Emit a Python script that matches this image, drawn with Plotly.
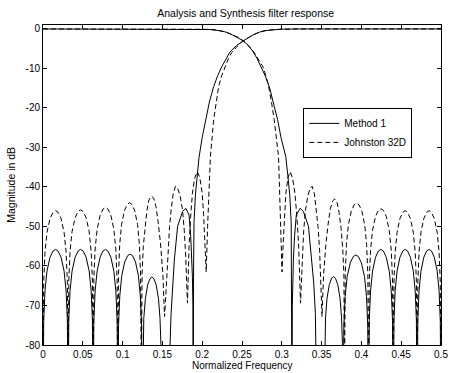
import plotly.graph_objects as go

# ---------------- data ----------------
# Method 1, high-pass (analysis/synthesis) branch
m1_hp_f = [0, 0.0009, 0.0025, 0.005, 0.0088, 0.0126, 0.0158, 0.0189, 0.0227, 0.0265, 0.029, 0.0306, 0.0315,
           0.0324, 0.034, 0.0365, 0.0403, 0.0441, 0.0472, 0.0504, 0.0542, 0.058, 0.0605, 0.0621, 0.063,
           0.0639, 0.0655, 0.068, 0.0717, 0.0754, 0.0785, 0.0816, 0.0853, 0.089, 0.0915, 0.0931, 0.094,
           0.0949, 0.0965, 0.0989, 0.1026, 0.1063, 0.1094, 0.1125, 0.1162, 0.1199, 0.1222, 0.1238, 0.1247,
           0.1254, 0.1266, 0.1286, 0.1315, 0.1344, 0.1368, 0.1393, 0.1422, 0.1451, 0.147, 0.1483, 0.149,
           0.159, 0.1596, 0.1609, 0.163, 0.165, 0.1691, 0.1753, 0.1794, 0.1835, 0.1856, 0.187, 0.1877, 0.1883, 0.1887,
           0.1892, 0.1897, 0.1915, 0.1938, 0.196, 0.2, 0.2041, 0.209, 0.2144, 0.2195, 0.2247, 0.23, 0.235, 0.243,
           0.2515, 0.258, 0.264, 0.272, 0.28, 0.29, 0.3, 0.32, 0.5]
m1_hp_db = [-100, -73.8, -66.3, -61.3, -57.8, -56.2, -55.8, -56.2, -57.8, -61.3, -66.3, -73.8, -100,
            -73.8, -66.3, -61.3, -57.8, -56.2, -55.8, -56.2, -57.8, -61.3, -66.3, -73.8, -100,
            -73.8, -66.3, -61.3, -57.8, -56.2, -55.8, -56.2, -57.8, -61.3, -66.3, -73.8, -100,
            -75.0, -67.5, -62.5, -59.0, -57.4, -57.0, -57.4, -59.0, -62.5, -67.5, -75.0, -100,
            -80.8, -73.3, -68.3, -64.8, -63.2, -62.8, -63.2, -64.8, -68.3, -73.3, -80.8, -100,
            -100, -80, -72, -64, -58.5, -50, -46.2, -45.4, -47.1, -52.6, -58, -62.7, -70, -100,
            -60, -49, -42, -37, -32.5, -27.5, -23, -18.5, -14.6, -11.8, -9.5, -7.5, -5.8, -4.2,
            -3.0, -2.2, -1.5, -0.8, -0.4, -0.15, -0.05, 0, 0]

# Method 1, low-pass branch
m1_lp_f = [0, 0.18, 0.2, 0.21, 0.22, 0.23, 0.238, 0.245, 0.2515, 0.2576, 0.2638, 0.269, 0.274, 0.279,
           0.2843, 0.2895, 0.2947, 0.299, 0.305, 0.3075, 0.31, 0.3118, 0.3123, 0.3128,
           0.3132, 0.3138, 0.3146, 0.316, 0.3182, 0.323, 0.3272, 0.3335, 0.3378, 0.34, 0.3422, 0.3435, 0.3442,
           0.353, 0.3537, 0.3549, 0.3568, 0.3597, 0.3626, 0.365, 0.3674, 0.3703, 0.3732, 0.3751, 0.3763, 0.377,
           0.378, 0.3796, 0.3821, 0.386, 0.3898, 0.393, 0.3962, 0.4, 0.4039, 0.4064, 0.408, 0.409,
           0.4099, 0.4115, 0.414, 0.4177, 0.4214, 0.4245, 0.4276, 0.4313, 0.435, 0.4375, 0.4391, 0.44,
           0.4409, 0.4424, 0.4448, 0.4484, 0.452, 0.455, 0.458, 0.4616, 0.4652, 0.4676, 0.4691, 0.47,
           0.4709, 0.4724, 0.4748, 0.4784, 0.482, 0.485, 0.488, 0.4916, 0.4952, 0.4976, 0.4991, 0.5]
m1_lp_db = [0, 0, -0.05, -0.15, -0.4, -0.8, -1.5, -2.2, -3.0, -4.1, -5.7, -7.5, -9.5, -11.8,
            -14.6, -18.5, -23, -27.5, -32.3, -37, -42, -49, -60, -100,
            -70, -62.7, -58, -52.6, -47.1, -45.4, -46.2, -50, -58.5, -64, -72, -80, -100,
            -100, -80.7, -73.2, -68.2, -64.7, -63.1, -62.7, -63.1, -64.7, -68.2, -73.2, -80.7, -100,
            -75.2, -67.7, -62.7, -59.2, -57.6, -57.2, -57.6, -59.2, -62.7, -67.7, -75.2, -100,
            -73.8, -66.3, -61.3, -57.8, -56.2, -55.8, -56.2, -57.8, -61.3, -66.3, -73.8, -100,
            -73.8, -66.3, -61.3, -57.8, -56.2, -55.8, -56.2, -57.8, -61.3, -66.3, -73.8, -100,
            -73.8, -66.3, -61.3, -57.8, -56.2, -55.8, -56.2, -57.8, -61.3, -66.3, -73.8, -100]

# Johnston 32D, high-pass branch
j_hp_f = [0, 0.0009, 0.0025, 0.005, 0.0088, 0.0126, 0.0158, 0.0189, 0.0227, 0.0265, 0.029, 0.0306, 0.0315,
          0.0324, 0.034, 0.0365, 0.0403, 0.0441, 0.0472, 0.0504, 0.0542, 0.058, 0.0605, 0.0621, 0.063,
          0.0639, 0.0655, 0.068, 0.0717, 0.0754, 0.0785, 0.0816, 0.0853, 0.089, 0.0915, 0.0931, 0.094,
          0.0949, 0.0964, 0.0987, 0.1023, 0.1058, 0.1088, 0.1117, 0.1152, 0.1188, 0.1211, 0.1226, 0.1235,
          0.1245, 0.126, 0.128, 0.1305, 0.133, 0.136, 0.139, 0.142, 0.1444, 0.1475, 0.1506, 0.1527,
          0.1547, 0.157, 0.159, 0.161, 0.1635, 0.1665, 0.1695, 0.1725, 0.1753, 0.1775, 0.1794, 0.1815,
          0.1835, 0.1855, 0.1877, 0.1905, 0.1938, 0.197, 0.2, 0.2018, 0.2033, 0.205,
          0.2068, 0.208, 0.2103, 0.2144, 0.2175, 0.2206, 0.2245, 0.2288, 0.233, 0.237, 0.244,
          0.2515, 0.258, 0.264, 0.272, 0.28, 0.29, 0.3, 0.32, 0.5]
j_hp_db = [-90, -64, -56.5, -51.5, -48, -46.4, -46, -46.4, -48, -51.5, -56.5, -64, -90,
           -63.8, -56.3, -51.3, -47.8, -46.2, -45.8, -46.2, -47.8, -51.3, -56.3, -63.8, -90,
           -63.2, -55.7, -50.7, -47.2, -45.6, -45.2, -45.6, -47.2, -50.7, -55.7, -63.2, -90,
           -62, -54.5, -49.5, -46, -44.4, -44, -44.4, -46, -49.5, -54.5, -62, -90,
           -62, -55, -50, -46, -43.3, -42.3, -42.8, -45, -48.5, -54, -62, -72.8,
           -66, -56, -50, -45.8, -41.8, -39.8, -40.5, -42.5, -45.8, -51, -58, -69.4,
           -55, -47.5, -41.6, -37.8, -36.1, -37.6, -41.6, -47, -54, -61.5,
           -50, -43, -32.3, -23, -18.5, -14.6, -11.8, -9.5, -7.5, -6, -4.4,
           -3.0, -2.2, -1.5, -0.8, -0.4, -0.15, -0.05, 0, 0]

# Johnston 32D, low-pass branch
j_lp_f = [0, 0.2, 0.21, 0.22, 0.23, 0.238, 0.245, 0.2515, 0.259, 0.2655, 0.2705, 0.2761, 0.28, 0.2835,
          0.287, 0.2905, 0.2959, 0.2975, 0.2988, 0.3003,
          0.3018, 0.3033, 0.3051, 0.3078, 0.3105, 0.3135, 0.3165, 0.319, 0.3212, 0.3235,
          0.3255, 0.3275, 0.3298, 0.3325, 0.3352, 0.338, 0.341, 0.3435, 0.3455, 0.3475, 0.3492, 0.3505,
          0.3525, 0.3556, 0.3587, 0.361, 0.364, 0.3667, 0.3695, 0.372, 0.3745, 0.3765, 0.378, 0.3788,
          0.3797, 0.3812, 0.3836, 0.3873, 0.3909, 0.394, 0.397, 0.4006, 0.4042, 0.4066, 0.4081, 0.409,
          0.4099, 0.4115, 0.414, 0.4177, 0.4214, 0.4245, 0.4276, 0.4313, 0.435, 0.4375, 0.4391, 0.44,
          0.4409, 0.4424, 0.4448, 0.4484, 0.452, 0.455, 0.458, 0.4616, 0.4652, 0.4676, 0.4691, 0.47,
          0.4709, 0.4724, 0.4748, 0.4784, 0.482, 0.485, 0.488, 0.4916, 0.4952, 0.4976, 0.4991, 0.5]
j_lp_db = [0, 0, -0.1, -0.3, -0.8, -1.5, -2.1, -3.0, -4.4, -6.0, -7.5, -9.5, -11.8, -14.6,
           -18.5, -23, -32.3, -43, -50, -61.5,
           -54, -47, -41.6, -37.6, -36.1, -37.8, -41.6, -47.5, -55, -69.4,
           -58, -51, -45.8, -42.5, -40.5, -39.8, -41.8, -45.8, -50, -56, -64, -72.8,
           -62, -54, -48.5, -45.5, -43.5, -43, -44, -46.5, -50.5, -55.5, -62, -90,
           -62.1, -54.6, -49.6, -46.1, -44.5, -44.1, -44.5, -46.1, -49.6, -54.6, -62.1, -90,
           -63.5, -56, -51, -47.5, -45.9, -45.5, -45.9, -47.5, -51, -56, -63.5, -90,
           -64, -56.5, -51.5, -48, -46.4, -46, -46.4, -48, -51.5, -56.5, -64, -90,
           -64, -56.5, -51.5, -48, -46.4, -46, -46.4, -48, -51.5, -56.5, -64, -90]

x_ticks = [0, 0.05, 0.1, 0.15, 0.2, 0.25, 0.3, 0.35, 0.4, 0.45, 0.5]
x_tick_text = ["0", "0.05", "0.1", "0.15", "0.2", "0.25", "0.3", "0.35", "0.4", "0.45", "0.5"]
y_ticks = [0, -10, -20, -30, -40, -50, -60, -70, -80]
y_tick_text = ["0", "-10", "-20", "-30", "-40", "-50", "-60", "-70", "-80"]

for a, b in [(m1_hp_f, m1_hp_db), (m1_lp_f, m1_lp_db), (j_hp_f, j_hp_db), (j_lp_f, j_lp_db)]:
    if len(a) != len(b):
        print("length mismatch", len(a), len(b))

FONT = "Liberation Sans, Arial, sans-serif"
DASH = "5px,3px"

fig = go.Figure()
fig.add_trace(go.Scatter(x=m1_hp_f, y=m1_hp_db, mode="lines", name="Method 1", legendgroup="m1",
                         line=dict(color="black", width=1)))
fig.add_trace(go.Scatter(x=j_hp_f, y=j_hp_db, mode="lines", name="Johnston 32D", legendgroup="j",
                         line=dict(color="black", width=1, dash=DASH)))
fig.add_trace(go.Scatter(x=m1_lp_f, y=m1_lp_db, mode="lines", name="Method 1", legendgroup="m1",
                         showlegend=False, line=dict(color="black", width=1)))
fig.add_trace(go.Scatter(x=j_lp_f, y=j_lp_db, mode="lines", name="Johnston 32D", legendgroup="j",
                         showlegend=False, line=dict(color="black", width=1, dash=DASH)))

axis_common = dict(showline=True, linecolor="black", linewidth=1, mirror="allticks",
                   ticks="inside", ticklen=4, tickcolor="black", tickwidth=1,
                   showgrid=False, zeroline=False, ticklabeloverflow="allow",
                   tickfont=dict(family=FONT, size=10, color="black"))

fig.update_xaxes(range=[0, 0.5], tickvals=x_ticks, ticktext=x_tick_text, **axis_common)
fig.update_yaxes(range=[-80, 1], tickvals=y_ticks, ticktext=y_tick_text, **axis_common)

fig.update_layout(
    width=455, height=373,
    margin=dict(l=43, r=7, t=25, b=28),
    paper_bgcolor="white", plot_bgcolor="white",
    font=dict(family=FONT, size=10, color="black"),
    title=dict(text="Analysis and Synthesis filter response", x=0.54, xanchor="center",
               y=0.965, yanchor="middle", font=dict(family=FONT, size=10.5, color="black")),
    showlegend=True,
    legend=dict(x=0.654, y=0.741, xanchor="left", yanchor="top",
                bgcolor="white", bordercolor="black", borderwidth=1,
                font=dict(family=FONT, size=10, color="black"),
                tracegroupgap=0),
    annotations=[
        dict(text="Normalized Frequency", xref="paper", yref="paper", x=0.5, y=-0.0625,
             xanchor="center", yanchor="middle", showarrow=False,
             font=dict(family=FONT, size=10, color="black")),
        dict(text="Magnitude in dB", xref="paper", yref="paper", x=-0.081, y=0.5,
             xanchor="center", yanchor="middle", textangle=-90, showarrow=False,
             font=dict(family=FONT, size=10.5, color="black")),
    ],
)

fig.write_html("out.html", config={"displayModeBar": False},
               post_script="document.body.style.margin='0';document.body.style.padding='0';")
